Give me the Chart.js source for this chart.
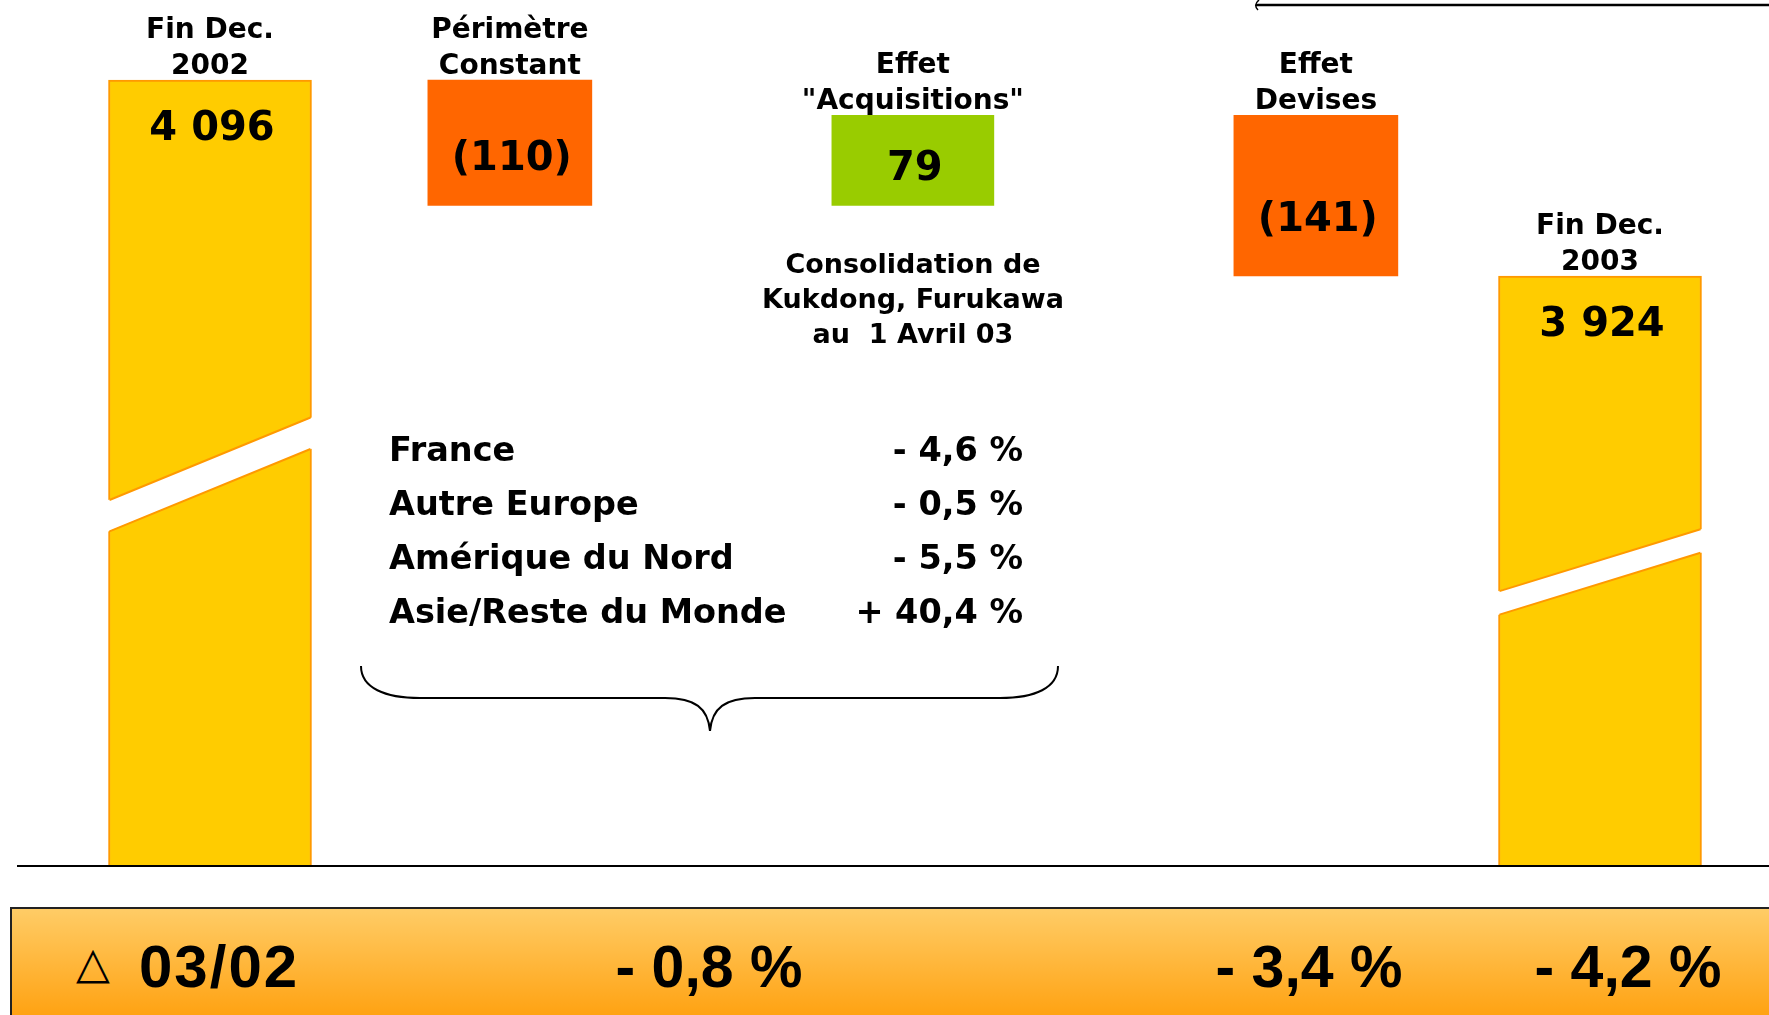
<!DOCTYPE html>
<html>
<head>
<meta charset="utf-8">
<script src="https://cdn.jsdelivr.net/npm/chart.js@4.4.0/dist/chart.umd.min.js"></script>
<style>
body { margin: 0; background: #fff; overflow: hidden; }
#wrap { position: relative; width: 1769px; height: 1015px; overflow: hidden; }
#c { position: absolute; left: 0; top: 0; }
.t { position: absolute; white-space: pre; color: #000; }
#band {
    position: absolute; left: 10px; top: 907px; width: 1780px; height: 130px;
    border-top: 2px solid #222; border-left: 2px solid #222;
    background: linear-gradient(#FFCC66, #FF9900);
}
</style>
</head>
<body>
<div id="wrap">
    <canvas id="c" width="1769" height="1015"></canvas>
    <div id="band"></div>
</div>
<script>
var categories = [['Fin Dec.', '2002'], ['Périmètre', 'Constant'], ['Effet', '"Acquisitions"'], ['Effet', 'Devises'], ['Fin Dec.', '2003']];
var values = [4096, -110, 79, -141, 3924];
var valueLabels = ['4 096', '(110)', '79', '(141)', '3 924'];
var axisFloor = 3407; // broken axis: the two totals start here

var regions = ['France', 'Autre Europe', 'Amérique du Nord', 'Asie/Reste du Monde'];
var regionGrowth = ['- 4,6 %', '- 0,5 %', '- 5,5 %', '+ 40,4 %'];
var note = ['Consolidation de', 'Kukdong, Furukawa', 'au  1 Avril 03'];
var periodLabel = '03/02';
var deltaLabels = ['- 0,8 %', '- 3,4 %', '- 4,2 %'];

var FONT = '"DejaVu Sans"';

// waterfall: totals on the category axis, the steps on their own axis
var totals = [], ups = [], downs = [];
var running = values[0];
for (var i = 0; i < values.length; i++) {
    if (i == 0 || i == values.length - 1) {
        totals.push([axisFloor, values[i]]);
    } else {
        totals.push(null);
        var next = running + values[i];
        if (values[i] > 0) ups.push({ x: i, y: [running, next] });
        else downs.push({ x: i, y: [next, running] });
        running = next;
    }
}

// find the bar element drawn for category i
function barAt(chart, i) {
    for (var d = 0; d < chart.data.datasets.length; d++) {
        var data = chart.data.datasets[d].data;
        for (var j = 0; j < data.length; j++) {
            if (data[j] == null) continue;
            var idx = data[j].x !== undefined ? data[j].x : j;
            if (idx == i) return { el: chart.getDatasetMeta(d).data[j], ds: d };
        }
    }
    return null;
}

var annotations = {
    id: 'annotations',
    afterDatasetsDraw: function (chart) {
        var ctx = chart.ctx;
        var yScale = chart.scales.y;
        ctx.save();

        // breaks in the total bars
        for (var i = 0; i < values.length; i++) {
            var b = barAt(chart, i);
            if (b.ds != 0) continue;
            var el = b.el;
            var x0 = el.x - el.width / 2, x1 = el.x + el.width / 2;
            var top = Math.min(el.y, el.base), h = Math.abs(el.base - el.y);
            var yL = top + 0.535 * h, yR = top + 0.43 * h, gap = 0.04 * h;
            var slope = (yR - yL) / (x1 - x0);
            ctx.fillStyle = '#fff';
            ctx.beginPath();
            ctx.moveTo(x0 - 4, yL - 4 * slope);
            ctx.lineTo(x1 + 4, yR + 4 * slope);
            ctx.lineTo(x1 + 4, yR + 4 * slope + gap);
            ctx.lineTo(x0 - 4, yL - 4 * slope + gap);
            ctx.closePath();
            ctx.fill();
            ctx.strokeStyle = '#FF9900';
            ctx.lineWidth = 2;
            ctx.beginPath();
            ctx.moveTo(x0 + 1, yL); ctx.lineTo(x1 - 1, yR);
            ctx.moveTo(x0 + 1, yL + gap); ctx.lineTo(x1 - 1, yR + gap);
            ctx.stroke();
        }

        // base line
        ctx.strokeStyle = '#000';
        ctx.lineWidth = 2;
        ctx.beginPath();
        ctx.moveTo(17, yScale.bottom + 1);
        ctx.lineTo(chart.width, yScale.bottom + 1);
        ctx.stroke();

        // labels above and inside the bars
        ctx.fillStyle = '#000';
        ctx.textAlign = 'center';
        ctx.textBaseline = 'alphabetic';
        for (var i = 0; i < values.length; i++) {
            var b = barAt(chart, i);
            var el = b.el;
            var top = Math.min(el.y, el.base), h = Math.abs(el.base - el.y);
            var lines = categories[i];
            ctx.font = 'bold 28px ' + FONT;
            for (var k = 0; k < lines.length; k++) {
                ctx.fillText(lines[k], el.x, top - 6 - (lines.length - 1 - k) * 36);
            }
            ctx.font = 'bold 40px ' + FONT;
            var base = b.ds == 0 ? top + 60 : top + 0.72 * h;
            ctx.fillText(valueLabels[i], el.x + 2, base);
        }

        // brace under the regional table
        ctx.lineWidth = 2;
        ctx.beginPath();
        ctx.moveTo(361, 666);
        ctx.bezierCurveTo(361, 688, 385, 698, 420, 698);
        ctx.lineTo(665, 698);
        ctx.bezierCurveTo(695, 698, 708, 708, 710, 731);
        ctx.bezierCurveTo(712, 708, 725, 698, 755, 698);
        ctx.lineTo(1000, 698);
        ctx.bezierCurveTo(1035, 698, 1058, 688, 1058, 666);
        ctx.stroke();

        // line at the top right
        ctx.lineWidth = 2.5;
        ctx.beginPath();
        ctx.moveTo(1256, 5);
        ctx.lineTo(chart.width, 5);
        ctx.stroke();
        ctx.lineWidth = 1.5;
        ctx.beginPath();
        ctx.moveTo(1259, 0);
        ctx.quadraticCurveTo(1253, 5, 1258, 10);
        ctx.stroke();

        ctx.restore();
    }
};

new Chart(document.getElementById('c'), {
    type: 'bar',
    data: {
        labels: categories,
        datasets: [{
            label: 'Total',
            data: totals,
            xAxisID: 'x',
            backgroundColor: '#FFCC00',
            borderColor: '#FF9900',
            borderWidth: 2,
            borderSkipped: 'start',
            barThickness: 203,
            clip: false
        }, {
            label: 'Hausse',
            data: ups,
            xAxisID: 'xStep',
            backgroundColor: '#99CC00',
            borderWidth: 0,
            barThickness: 162,
            clip: false
        }, {
            label: 'Baisse',
            data: downs,
            xAxisID: 'xStep',
            backgroundColor: '#FF6600',
            borderWidth: 0,
            barThickness: 164,
            clip: false
        }]
    },
    options: {
        responsive: false,
        animation: false,
        layout: { padding: { left: 210, right: 169, top: 80, bottom: 150 } },
        plugins: { legend: { display: false }, tooltip: { enabled: false } },
        datasets: { bar: { grouped: false } },
        scales: {
            x: { type: 'category', display: false, offset: false },
            xStep: { type: 'linear', display: false, offset: false, min: 0.256, max: 3.705 },
            y: { display: false, min: axisFloor, max: values[0] }
        }
    },
    plugins: [annotations]
});

// static texts
var wrap = document.getElementById('wrap');
function put(text, x, base, size, family, weight, align, k, spacing) {
    var d = document.createElement('div');
    d.className = 't';
    d.textContent = text;
    d.style.fontFamily = family;
    d.style.fontWeight = weight;
    d.style.fontSize = size + 'px';
    d.style.lineHeight = size + 'px';
    d.style.letterSpacing = (spacing || 0) + 'px';
    d.style.top = (base - size * k) + 'px';
    d.style.left = x + 'px';
    if (align == 'center') d.style.transform = 'translateX(-50%)';
    if (align == 'right') d.style.transform = 'translateX(-100%)';
    wrap.appendChild(d);
}

for (var i = 0; i < note.length; i++) {
    put(note[i], 913, 273 + i * 35, 27, FONT, 'bold', 'center', 0.846);
}
for (var i = 0; i < regions.length; i++) {
    put(regions[i], 389, 461 + i * 54, 33.5, FONT, 'bold', 'left', 0.846);
    put(regionGrowth[i], 1023, 461 + i * 54, 33.5, FONT, 'bold', 'right', 0.846);
}
put('\u25B3', 76, 978, 44, 'DejaVu Sans', 'normal', 'left', 0.846);
put(periodLabel, 139, 988, 60, 'Liberation Sans', 'bold', 'left', 0.8465, 2);
var deltaX = [709, 1309, 1628];
for (var i = 0; i < deltaLabels.length; i++) {
    put(deltaLabels[i], deltaX[i], 988, 59, 'Liberation Sans', 'bold', 'center', 0.8465);
}
</script>
</body>
</html>
